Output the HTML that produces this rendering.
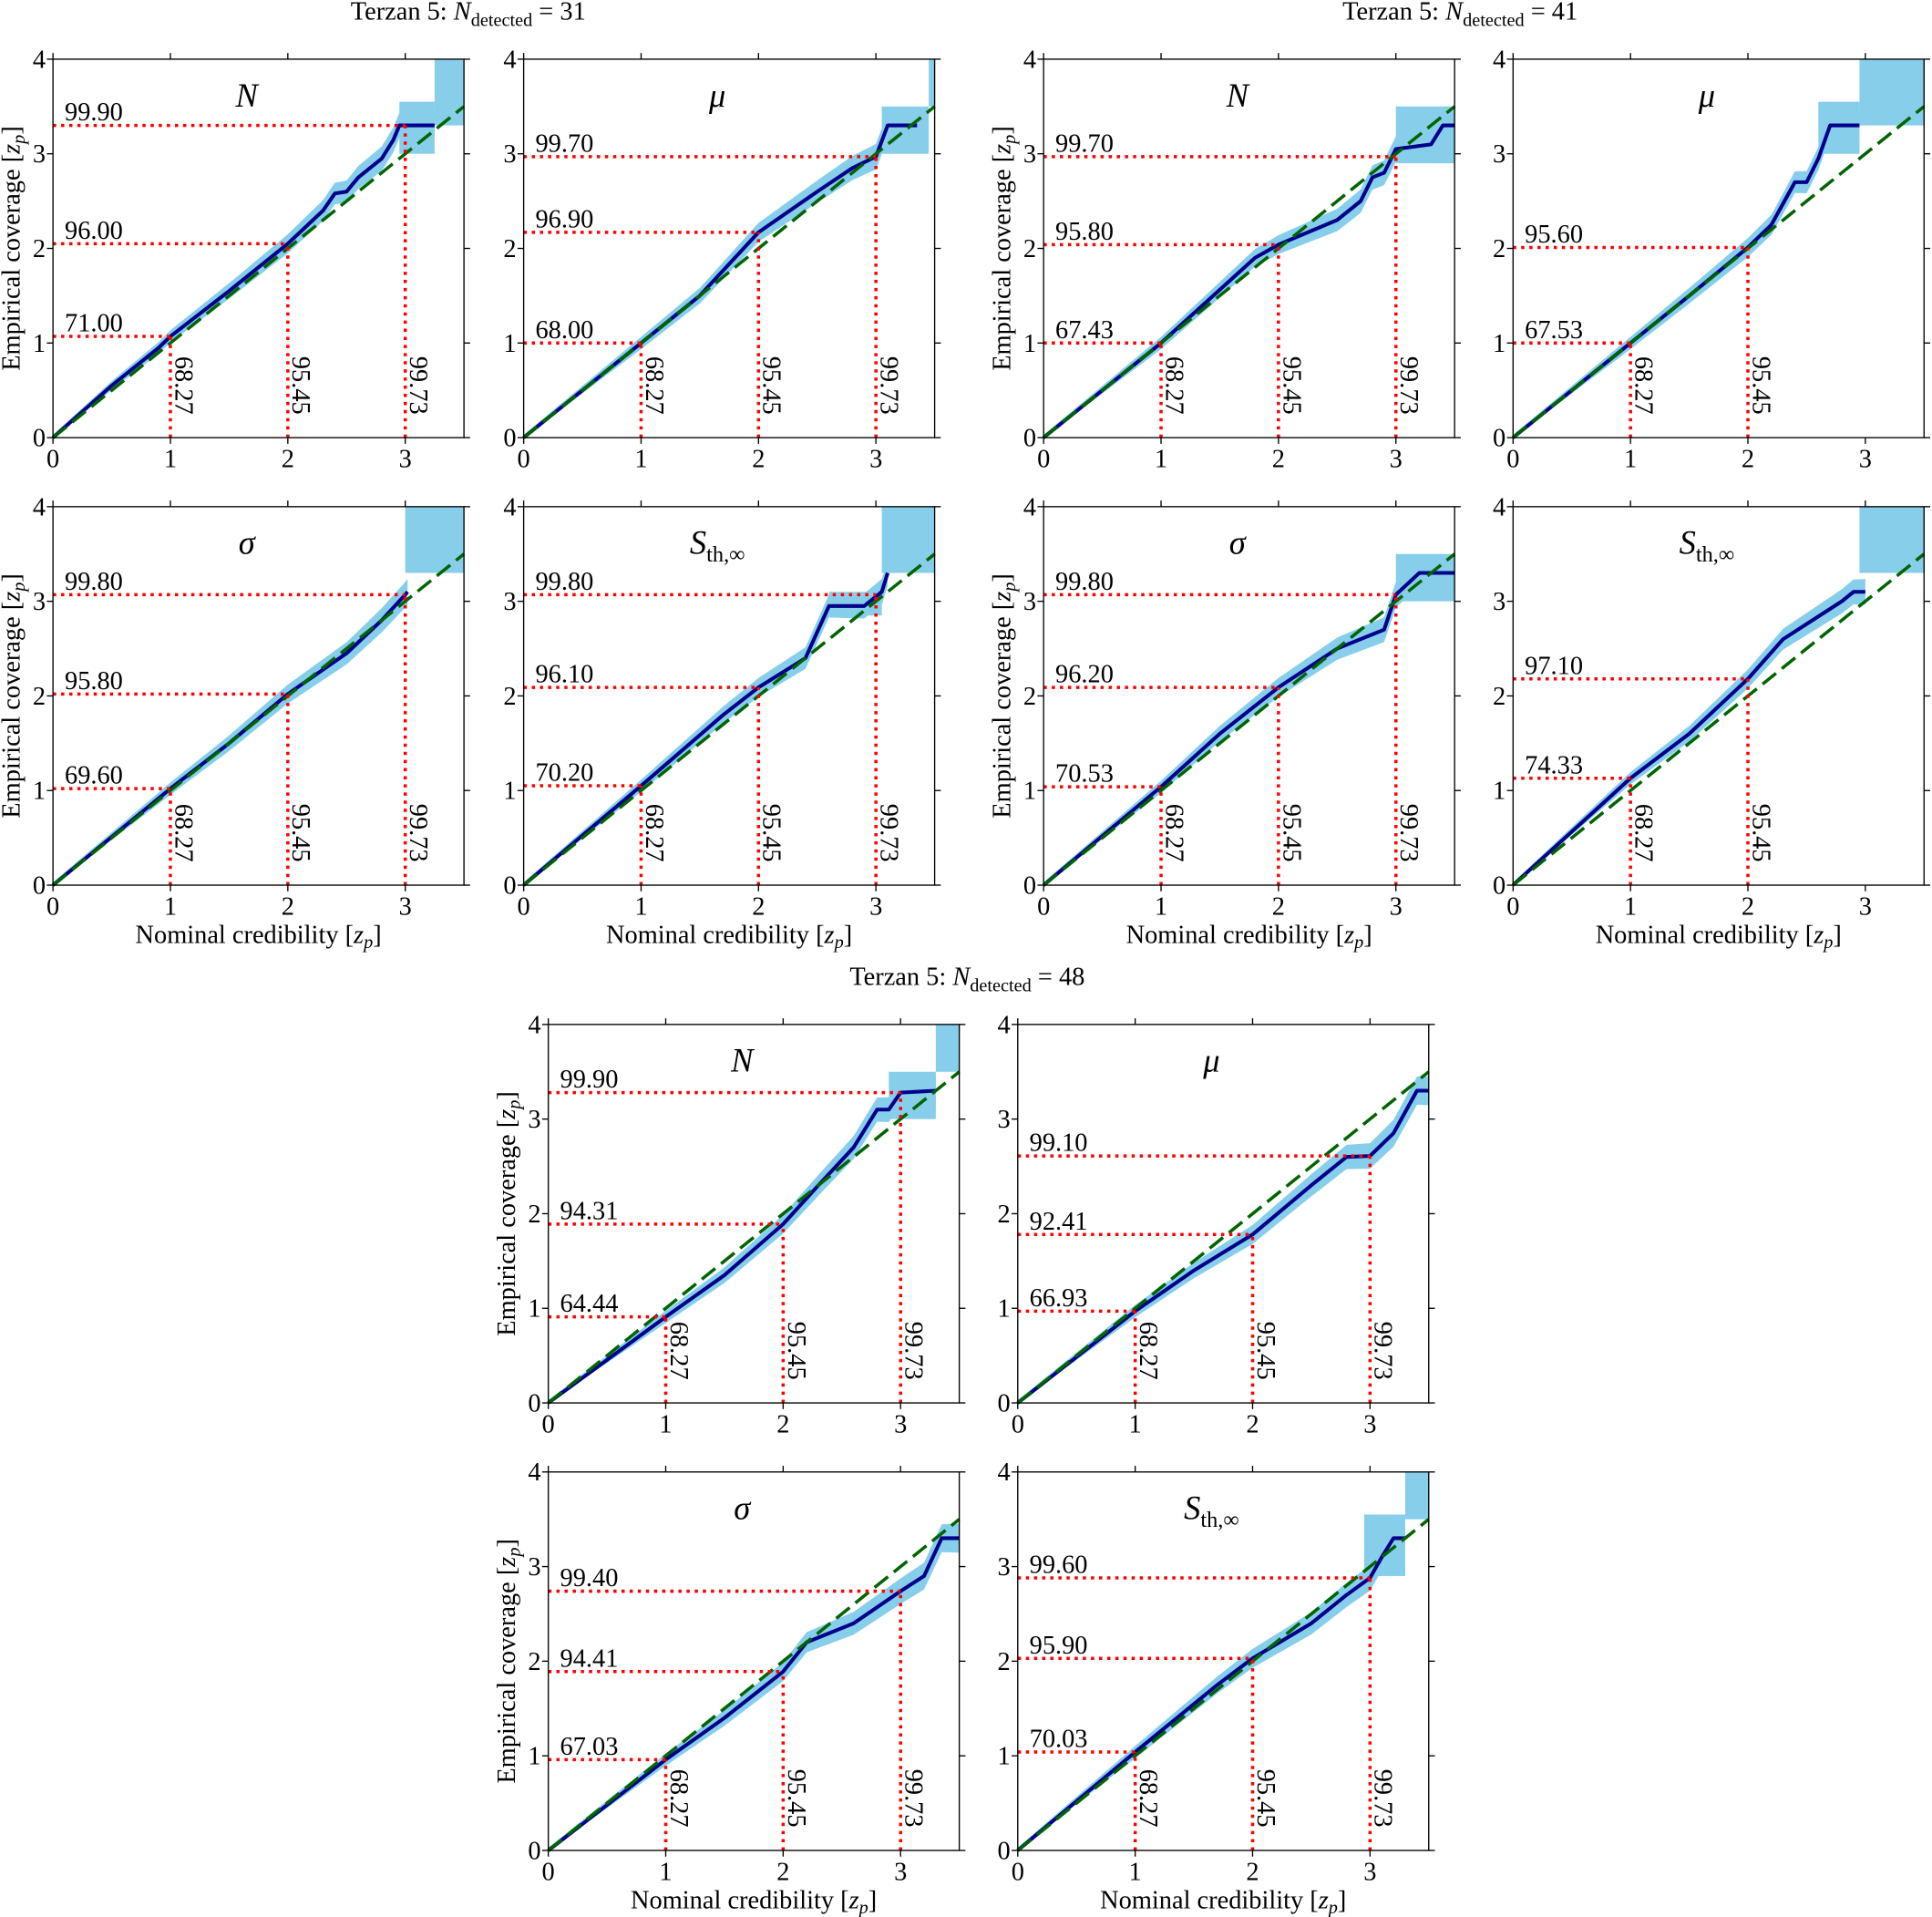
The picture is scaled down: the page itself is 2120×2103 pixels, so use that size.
<!DOCTYPE html>
<html><head><meta charset="utf-8"><style>
html,body{margin:0;padding:0;background:#fff;}
svg{display:block;}
text{font-family:"Liberation Serif","DejaVu Serif",serif;fill:#000;}
</style></head><body>
<svg id="s" xmlns="http://www.w3.org/2000/svg" width="2120" height="2103" viewBox="0 0 1568 1555" preserveAspectRatio="none">
<text x="380" y="16" font-size="21" text-anchor="middle">Terzan 5: <tspan font-style="italic">N</tspan><tspan font-size="15" dy="5">detected</tspan><tspan dy="-5"> = 31</tspan></text>
<text x="1185" y="16" font-size="21" text-anchor="middle">Terzan 5: <tspan font-style="italic">N</tspan><tspan font-size="15" dy="5">detected</tspan><tspan dy="-5"> = 41</tspan></text>
<text x="785" y="799" font-size="21" text-anchor="middle">Terzan 5: <tspan font-style="italic">N</tspan><tspan font-size="15" dy="5">detected</tspan><tspan dy="-5"> = 48</tspan></text>
</svg>
<script>
const NS="http://www.w3.org/2000/svg",svg=document.getElementById('s');
const SX=95.3,SY=76.75;
function el(t,a,txt){const e=document.createElementNS(NS,t);for(const k in a)e.setAttribute(k,a[k]);if(txt!==undefined)e.innerHTML=txt;svg.appendChild(e);return e;}
const P=[
{x0:43,y0:355,t:'N',yl:1,xl:0,h:[[1.07,'71.00'],[2.05,'96.00'],[3.30,'99.90']],nv:3,
 c:[[0,0],[0.5,0.55],[0.9,0.95],[1,1.07],[1.5,1.55],[2,2.05],[2.3,2.4],[2.4,2.58],[2.5,2.6],[2.6,2.75],[2.8,2.95],[2.9,3.15],[2.95,3.3],[3.25,3.3]],r:[[2.95,3.25,3.0,3.55],[3.25,3.5,3.3,4]]},
{x0:425,y0:355,t:'μ',yl:0,xl:0,h:[[1.0,'68.00'],[2.17,'96.90'],[2.97,'99.70']],nv:3,
 c:[[0,0],[1,1],[1.5,1.5],[2,2.17],[2.5,2.6],[2.8,2.85],[3,2.97],[3.1,3.3],[3.35,3.3]],r:[[3.05,3.45,3.0,3.5],[3.45,3.5,3.5,4]]},
{x0:847,y0:355,t:'N',yl:1,xl:0,h:[[1.0,'67.43'],[2.04,'95.80'],[2.97,'99.70']],nv:3,
 c:[[0,0],[1,1],[1.8,1.9],[2,2.04],[2.5,2.3],[2.7,2.5],[2.8,2.75],[2.9,2.8],[3,3.05],[3.3,3.1],[3.4,3.3],[3.5,3.3]],r:[[3.0,3.5,2.9,3.5]]},
{x0:1228,y0:355,t:'μ',yl:0,xl:0,h:[[1.0,'67.53'],[2.01,'95.60']],nv:2,
 c:[[0,0],[1,1],[1.5,1.5],[2,2.01],[2.2,2.25],[2.4,2.7],[2.5,2.7],[2.6,2.95],[2.7,3.3],[2.95,3.3]],r:[[2.6,2.95,3.0,3.55],[2.95,3.5,3.3,4]]},
{x0:43,y0:718,t:'σ',yl:1,xl:1,h:[[1.02,'69.60'],[2.02,'95.80'],[3.07,'99.80']],nv:3,
 c:[[0,0],[1,1.02],[1.5,1.5],[2,2.02],[2.5,2.45],[2.8,2.8],[3,3.07],[3.02,3.1]],r:[[3.0,3.5,3.3,4]]},
{x0:425,y0:718,t:'S',yl:0,xl:1,h:[[1.05,'70.20'],[2.09,'96.10'],[3.07,'99.80']],nv:3,
 c:[[0,0],[1,1.05],[1.7,1.8],[2,2.09],[2.4,2.4],[2.6,2.95],[2.9,2.95],[3.05,3.1],[3.1,3.3]],r:[[2.6,3.05,2.85,3.1],[3.05,3.5,3.3,4]]},
{x0:847,y0:718,t:'σ',yl:1,xl:1,h:[[1.04,'70.53'],[2.09,'96.20'],[3.07,'99.80']],nv:3,
 c:[[0,0],[1,1.04],[1.5,1.6],[2,2.09],[2.5,2.5],[2.9,2.7],[3,3.07],[3.2,3.3],[3.5,3.3]],r:[[3.0,3.5,3.0,3.5]]},
{x0:1228,y0:718,t:'S',yl:0,xl:1,h:[[1.13,'74.33'],[2.18,'97.10']],nv:2,
 c:[[0,0],[1,1.13],[1.5,1.6],[2,2.18],[2.3,2.6],[2.8,3.0],[2.9,3.1],[3.0,3.1]],r:[[2.95,3.5,3.3,4]]},
{x0:445,y0:1138,t:'N',yl:1,xl:0,h:[[0.91,'64.44'],[1.89,'94.31'],[3.28,'99.90']],nv:3,
 c:[[0,0],[1,0.91],[1.5,1.35],[2,1.89],[2.3,2.3],[2.6,2.7],[2.8,3.1],[2.9,3.1],[3,3.28],[3.3,3.3]],r:[[2.9,3.3,3.0,3.5],[3.3,3.5,3.5,4]]},
{x0:826,y0:1138,t:'μ',yl:0,xl:0,h:[[0.97,'66.93'],[1.78,'92.41'],[2.61,'99.10']],nv:3,
 c:[[0,0],[1,0.97],[1.5,1.4],[2,1.78],[2.5,2.3],[2.8,2.6],[3,2.61],[3.2,2.85],[3.4,3.3],[3.5,3.3]],r:[]},
{x0:445,y0:1501,t:'σ',yl:1,xl:1,h:[[0.96,'67.03'],[1.89,'94.41'],[2.74,'99.40']],nv:3,
 c:[[0,0],[1,0.96],[1.5,1.4],[2,1.89],[2.2,2.2],[2.6,2.4],[3,2.74],[3.2,2.9],[3.35,3.3],[3.5,3.3]],r:[]},
{x0:826,y0:1501,t:'S',yl:0,xl:1,h:[[1.04,'70.03'],[2.03,'95.90'],[2.88,'99.60']],nv:3,
 c:[[0,0],[1,1.04],[1.7,1.75],[2,2.03],[2.5,2.4],[2.8,2.7],[3,2.88],[3.1,3.1],[3.2,3.3],[3.3,3.3]],r:[[2.95,3.3,2.9,3.55],[3.3,3.5,3.5,4]]}
];
const vl=['68.27','95.45','99.73'];
P.forEach((p,i)=>{
 const X=v=>p.x0+v*SX,Y=v=>p.y0-v*SY,W=3.5*SX,H=4*SY;
 const cid='c'+i;
 const cp=el('clipPath',{id:cid});const rr=document.createElementNS(NS,'rect');
 rr.setAttribute('x',X(0));rr.setAttribute('y',Y(4));rr.setAttribute('width',W);rr.setAttribute('height',H);cp.appendChild(rr);
 let up=[],dn=[];
 p.c.forEach(([x,y])=>{const w=0.03+0.035*x;up.push(X(x)+','+Y(y+w));dn.unshift(X(x)+','+Y(Math.max(0,y-w)));});
 el('polygon',{points:up.concat(dn).join(' '),fill:'#87ceeb','clip-path':'url(#'+cid+')'});
 p.r.forEach(r=>el('rect',{x:X(r[0]),y:Y(r[3]),width:(r[1]-r[0])*SX,height:(r[3]-r[2])*SY,fill:'#87ceeb','clip-path':'url(#'+cid+')'}));
 el('polyline',{points:p.c.map(([x,y])=>X(x)+','+Y(y)).join(' '),fill:'none',stroke:'#00008b','stroke-width':3,'stroke-linejoin':'round'});
 el('line',{x1:X(0),y1:Y(0),x2:X(3.5),y2:Y(3.5),stroke:'#006400','stroke-width':2.6,'stroke-dasharray':'14 6'});
 p.h.forEach(([y,l],k)=>{
  el('line',{x1:X(0),y1:Y(y),x2:X(k+1),y2:Y(y),stroke:'#ff0000','stroke-width':2.6,'stroke-dasharray':'2.6 4'});
  el('line',{x1:X(k+1),y1:Y(0),x2:X(k+1),y2:Y(y),stroke:'#ff0000','stroke-width':2.6,'stroke-dasharray':'2.6 4'});
  el('text',{x:X(0.1),y:Y(y)-4,'font-size':21},l);
  el('text',{x:0,y:0,'font-size':21,transform:`translate(${X(k+1)+4},${Y(0.86)}) rotate(90)`},vl[k]);
 });
 el('rect',{x:X(0),y:Y(4),width:W,height:H,fill:'none',stroke:'#000','stroke-width':1});
 for(let k=0;k<=3;k++){
  el('line',{x1:X(k),y1:Y(0),x2:X(k),y2:Y(0)+5,stroke:'#000'});
  el('line',{x1:X(k),y1:Y(4),x2:X(k),y2:Y(4)-5,stroke:'#000'});
  el('text',{x:X(k),y:Y(0)+24,'font-size':21,'text-anchor':'middle'},k);
 }
 for(let k=0;k<=4;k++){
  el('line',{x1:X(0)-5,y1:Y(k),x2:X(0),y2:Y(k),stroke:'#000'});
  el('line',{x1:X(3.5),y1:Y(k),x2:X(3.5)+5,y2:Y(k),stroke:'#000'});
  el('text',{x:X(0)-6,y:Y(k)+7,'font-size':21,'text-anchor':'end'},k);
 }
 const tt=p.t==='S'?'<tspan font-style="italic">S</tspan><tspan font-size="18" dy="6">th,∞</tspan>':'<tspan font-style="italic">'+p.t+'</tspan>';
 el('text',{x:X(1.65),y:Y(3.5),'font-size':27,'text-anchor':'middle'},tt);
 if(p.yl) el('text',{x:0,y:0,'font-size':21,'text-anchor':'middle',transform:`translate(${X(0)-27},${Y(2)}) rotate(-90)`},'Empirical coverage [<tspan font-style="italic">z</tspan><tspan font-style="italic" font-size="15" dy="4">p</tspan><tspan dy="-4">]</tspan>');
 if(p.xl) el('text',{x:X(1.75),y:Y(0)+47,'font-size':21,'text-anchor':'middle'},'Nominal credibility [<tspan font-style="italic">z</tspan><tspan font-style="italic" font-size="15" dy="4">p</tspan><tspan dy="-4">]</tspan>');
});
</script>
</body></html>
